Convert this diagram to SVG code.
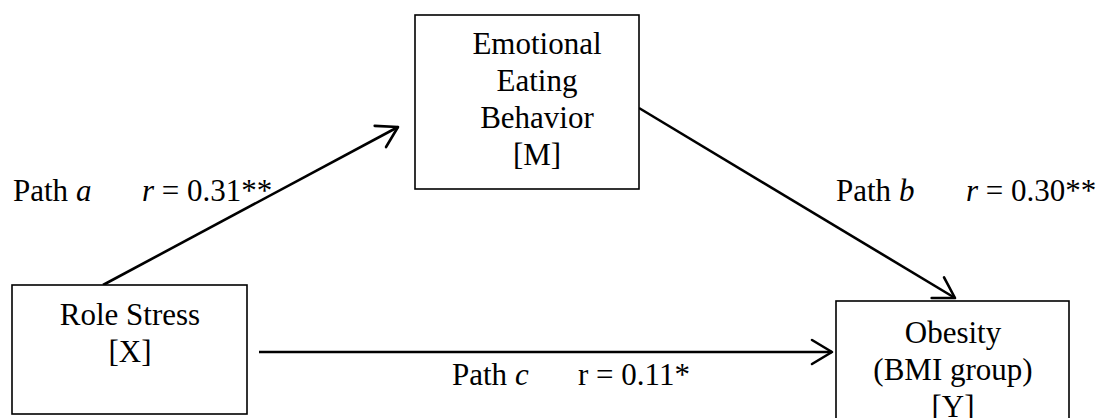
<svg xmlns="http://www.w3.org/2000/svg" width="1103" height="418" viewBox="0 0 1103 418">
<style>
.box{fill:#fff;stroke:#000;stroke-width:1.6}
.t{font-family:"Liberation Serif","Times New Roman",serif;font-size:31px;fill:#000}
.c{text-anchor:middle}
.conn{stroke:#000;stroke-width:2.6;fill:none}
</style>
<defs>
<marker id="arr" markerUnits="userSpaceOnUse" markerWidth="30" markerHeight="30" viewBox="-25 -15 30 30" refX="0" refY="0" orient="auto">
<path d="M-20,-12 L0,0 L-20,12" fill="none" stroke="#000" stroke-width="2.6" stroke-linecap="round" stroke-linejoin="round"/>
</marker>
</defs>
<rect width="1103" height="418" fill="#fff"/>
<g id="connectors">
<line class="conn" x1="103" y1="285" x2="398" y2="127" marker-end="url(#arr)"/>
<line class="conn" x1="639" y1="108" x2="955" y2="298" marker-end="url(#arr)"/>
<line class="conn" x1="259" y1="352" x2="832" y2="352" marker-end="url(#arr)"/>
</g>
<g id="node-m">
<rect class="box" x="415" y="15" width="224" height="174"/>
<text class="t c" x="537" y="54">Emotional</text>
<text class="t c" x="537" y="91">Eating</text>
<text class="t c" x="537" y="128">Behavior</text>
<text class="t c" x="537" y="165">[M]</text>
</g>
<g id="node-x">
<rect class="box" x="12" y="285" width="235" height="129"/>
<text class="t c" x="130" y="325">Role Stress</text>
<text class="t c" x="130" y="362">[X]</text>
</g>
<g id="node-y">
<rect class="box" x="836" y="301" width="233" height="130"/>
<text class="t c" x="953" y="343">Obesity</text>
<text class="t c" x="953" y="380">(BMI group)</text>
<text class="t c" x="953" y="417">[Y]</text>
</g>
<g id="labels">
<text class="t" x="13" y="201">Path <tspan font-style="italic">a</tspan></text>
<text class="t" x="142" y="201"><tspan font-style="italic">r</tspan> = 0.31**</text>
<text class="t" x="836" y="201">Path <tspan font-style="italic">b</tspan></text>
<text class="t" x="966" y="201"><tspan font-style="italic">r</tspan> = 0.30**</text>
<text class="t" x="452" y="385">Path <tspan font-style="italic">c</tspan></text>
<text class="t" x="578" y="385">r = 0.11*</text>
</g>
</svg>
